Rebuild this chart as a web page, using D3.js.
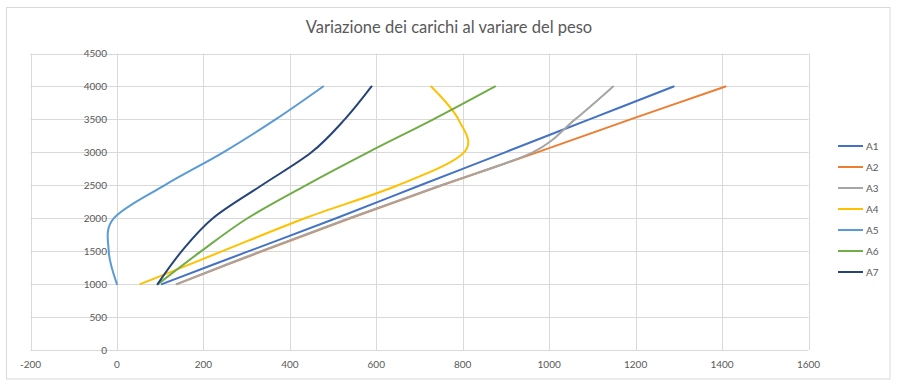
<!DOCTYPE html>
<html>
<head>
  <meta charset="utf-8">
  <title>Variazione dei carichi</title>
  <script src="https://d3js.org/d3.v7.min.js"></script>
  <style>
    html, body { margin: 0; background: #fff; }
    text { font-family: Lato, "Open Sans", sans-serif; fill: #595959; }
  </style>
</head>
<body>
<script>
  // carichi (asse y) e valori delle serie (asse x)
  var loads = [1000, 1500, 2000, 2500, 3000, 3500, 4000];
  var seriesNames = ['A1', 'A2', 'A3', 'A4', 'A5', 'A6', 'A7'];
  var A1 = [104, 305, 507, 702, 898, 1093, 1288];
  var A2 = [139, 337, 540, 752, 972, 1188, 1408];
  var A3 = [138, 333, 537, 750, 962, 1060, 1148];
  var A4 = [54, 244, 435, 650, 803, 790, 727];
  var A5 = [0, -19, -7, 110, 246, 367, 477];
  var A6 = [95, 195, 302, 437, 581, 732, 875];
  var A7 = [94, 150, 222, 335, 450, 527, 589];
  var xTicks = [-200, 0, 200, 400, 600, 800, 1000, 1200, 1400, 1600];
  var yTicks = [0, 500, 1000, 1500, 2000, 2500, 3000, 3500, 4000, 4500];

  var seriesValues = [A1, A2, A3, A4, A5, A6, A7];
  var colors = ['#4472C4', '#ED7D31', '#A5A5A5', '#FFC000', '#5B9BD5', '#70AD47', '#264478'];

  var width = 903, height = 391;

  var svg = d3.select('body')
    .append('svg')
    .attr('width', width)
    .attr('height', height);

  // cornice del grafico
  svg.append('rect')
    .attr('x', 6.5).attr('y', 7.5)
    .attr('width', 883.5).attr('height', 371.5)
    .attr('fill', '#fff')
    .attr('stroke', '#D9D9D9');

  svg.append('text')
    .attr('x', 449).attr('y', 33)
    .attr('text-anchor', 'middle')
    .style('font-size', '16.5px')
    .text('Variazione dei carichi al variare del peso');

  var x = d3.scaleLinear().domain([-200, 1600]).range([30.5, 808.5]);
  var y = d3.scaleLinear().domain([0, 4500]).range([350, 53.5]);

  var grid = svg.append('g');

  grid.selectAll('line.v')
    .data(xTicks)
    .enter()
    .append('line')
    .attr('x1', d => Math.round(x(d)) + 0.5)
    .attr('x2', d => Math.round(x(d)) + 0.5)
    .attr('y1', y(4500))
    .attr('y2', y(0))
    .attr('stroke', '#D9D9D9');

  grid.selectAll('line.h')
    .data(yTicks)
    .enter()
    .append('line')
    .attr('x1', x(-200))
    .attr('x2', x(1600))
    .attr('y1', d => Math.round(y(d)) + 0.5)
    .attr('y2', d => Math.round(y(d)) + 0.5)
    .attr('stroke', '#D9D9D9');

  // etichette asse y (vicino all'asse x=0)
  svg.append('g').selectAll('text')
    .data(yTicks)
    .enter()
    .append('text')
    .attr('x', x(0) - 10)
    .attr('y', d => y(d) + 3.5)
    .attr('text-anchor', 'end')
    .style('font-size', '10px')
    .text(d => d);

  svg.append('g').selectAll('text')
    .data(xTicks)
    .enter()
    .append('text')
    .attr('x', d => x(d))
    .attr('y', 368)
    .attr('text-anchor', 'middle')
    .style('font-size', '10px')
    .text(d => d);

  // linee smussate come in Excel
  var line = d3.line()
    .x(d => x(d[0]))
    .y(d => y(d[1]))
    .curve(d3.curveCardinal.tension(0));

  svg.append('g').selectAll('path')
    .data(seriesValues)
    .enter()
    .append('path')
    .attr('d', vals => line(vals.map((v, i) => [v, loads[i]])))
    .attr('fill', 'none')
    .attr('stroke', (d, i) => colors[i])
    .attr('stroke-width', 2)
    .attr('stroke-linecap', 'round');

  var legend = svg.append('g').selectAll('g')
    .data(seriesNames)
    .enter()
    .append('g')
    .attr('transform', (d, i) => 'translate(838,' + (146 + i * 21) + ')');

  legend.append('line')
    .attr('x1', 0).attr('x2', 25)
    .attr('stroke', (d, i) => colors[i])
    .attr('stroke-width', 2);

  legend.append('text')
    .attr('x', 28).attr('y', 3.5)
    .style('font-size', '10px')
    .text(d => d);
</script>
</body>
</html>
